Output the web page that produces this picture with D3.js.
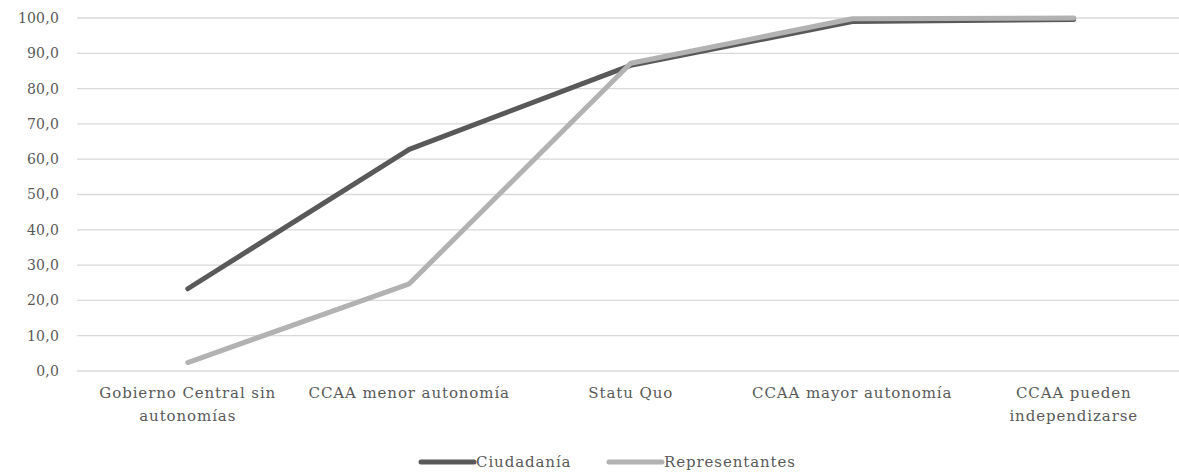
<!DOCTYPE html>
<html><head><meta charset="utf-8">
<script src="https://cdn.jsdelivr.net/npm/d3@7"></script>
<style>body{margin:0;background:#fff;} text{font-family:"DejaVu Serif",serif;fill:#595959;}</style>
</head><body><svg id="c" width="1179" height="472"></svg>
<script>
const categories = [["Gobierno Central sin","autonomías"],["CCAA menor autonomía"],["Statu Quo"],["CCAA mayor autonomía"],["CCAA pueden","independizarse"]];
const ciudadania = [23.3, 62.8, 86.6, 99.0, 99.6];
const representantes = [2.4, 24.7, 87.2, 99.8, 100.0];
const yTicks = [0,10,20,30,40,50,60,70,80,90,100];
const seriesNames = ["Ciudadanía","Representantes"];
const colors = ["#595959","#b2b2b2"];

const svg = d3.select("#c");
const x = d3.scaleBand().domain(d3.range(categories.length)).range([77, 1184.5]);
const y = d3.scaleLinear().domain([0,100]).range([371, 18]);
const fmt = d => d.toFixed(1).replace(".", ",");

const g = svg.append("g");
g.selectAll("line.grid").data(yTicks).join("line")
  .attr("x1", 77).attr("x2", 1179).attr("y1", d=>y(d)).attr("y2", d=>y(d))
  .attr("stroke", "#d9d9d9").attr("stroke-width", 1.3);
g.selectAll("text.yl").data(yTicks).join("text")
  .attr("x", 59).attr("y", d=>y(d)).attr("dy","0.35em").attr("text-anchor","end")
  .attr("font-size", 14).attr("letter-spacing", 0.2).text(fmt);

const xl = g.selectAll("text.xl").data(categories).join("text")
  .attr("text-anchor","middle").attr("font-size",15).attr("letter-spacing",0.9)
  .attr("transform",(d,i)=>`translate(${x(i)+x.bandwidth()/2},398)`);
xl.selectAll("tspan").data(d=>d).join("tspan").attr("x",0).attr("dy",(d,i)=>i?23:0).text(d=>d);

const line = d3.line().x((d,i)=>x(i)+x.bandwidth()/2).y(d=>y(d));
[ciudadania, representantes].forEach((s,k)=>{
  g.append("path").datum(s).attr("d", line).attr("fill","none")
   .attr("stroke", colors[k]).attr("stroke-width",5).attr("stroke-linecap","round").attr("stroke-linejoin","round");
});

const legX = [419, 607];
seriesNames.forEach((n,k)=>{
  const lx = legX[k];
  g.append("line").attr("x1", lx+2).attr("x2", lx+55).attr("y1",462).attr("y2",462)
   .attr("stroke",colors[k]).attr("stroke-width",5).attr("stroke-linecap","round");
  g.append("text").attr("x", lx+57).attr("y",462).attr("dy","0.35em").attr("font-size",15).attr("letter-spacing",0.9).text(n);
});
</script></body></html>
